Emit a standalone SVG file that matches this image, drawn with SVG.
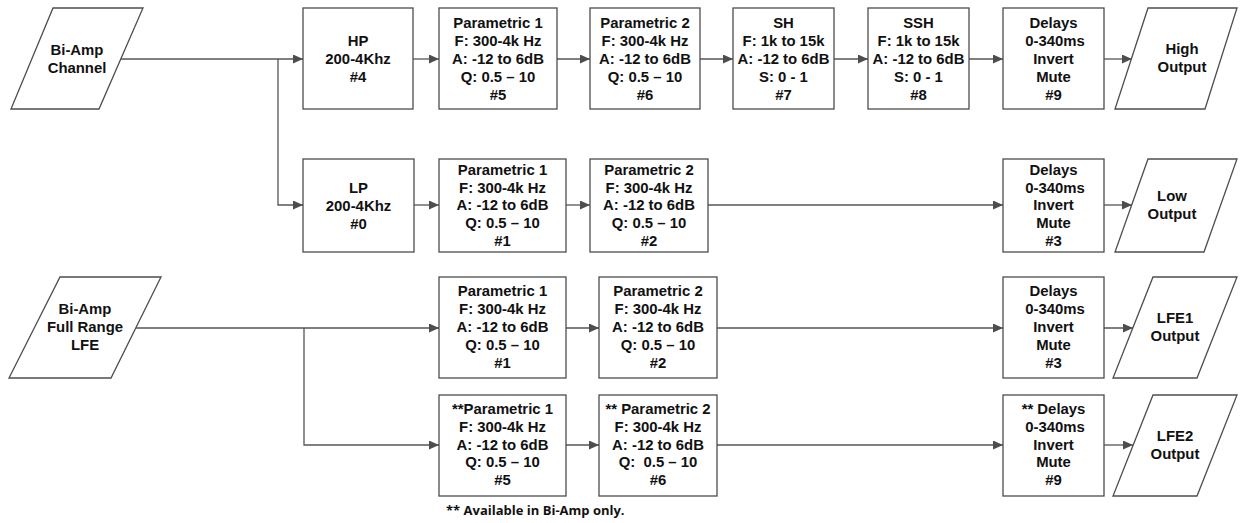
<svg xmlns="http://www.w3.org/2000/svg" width="1243" height="523" viewBox="0 0 1243 523">
<style>
.n{fill:#fff;stroke:#4d4d4d;stroke-width:1.3}
.t{font-family:"Liberation Sans",Arial,sans-serif;font-weight:700;font-size:14.9px;fill:#111;text-anchor:middle}
.c{fill:none;stroke:#555;stroke-width:1.3}
.fn{font-family:"Open Sans","Liberation Sans",sans-serif;font-weight:700;font-size:13px;fill:#111}
</style>
<defs>
<marker id="ah" markerUnits="userSpaceOnUse" markerWidth="11" markerHeight="10" refX="10" refY="4.5" orient="auto">
<path d="M0,0 L10,4.5 L0,9 z" fill="#4d4d4d"/>
</marker>
</defs>
<rect width="1243" height="523" fill="#fff"/>
<g id="connectors">
<path class="c" d="M121,59 H303" marker-end="url(#ah)"/>
<path class="c" d="M278,59 V205 H303" marker-end="url(#ah)"/>
<path class="c" d="M413,59 H439" marker-end="url(#ah)"/>
<path class="c" d="M557,59 H590" marker-end="url(#ah)"/>
<path class="c" d="M700,59 H733" marker-end="url(#ah)"/>
<path class="c" d="M834,59 H868" marker-end="url(#ah)"/>
<path class="c" d="M969,59 H1003" marker-end="url(#ah)"/>
<path class="c" d="M1104,59 H1132" marker-end="url(#ah)"/>
<path class="c" d="M414,205 H439" marker-end="url(#ah)"/>
<path class="c" d="M566,205 H590" marker-end="url(#ah)"/>
<path class="c" d="M708,205 H1003" marker-end="url(#ah)"/>
<path class="c" d="M1104,205 H1132" marker-end="url(#ah)"/>
<path class="c" d="M136,328 H439" marker-end="url(#ah)"/>
<path class="c" d="M304,328 V445 H439" marker-end="url(#ah)"/>
<path class="c" d="M566,328 H599" marker-end="url(#ah)"/>
<path class="c" d="M717,328 H1003" marker-end="url(#ah)"/>
<path class="c" d="M1100,328 H1133" marker-end="url(#ah)"/>
<path class="c" d="M566,445 H599" marker-end="url(#ah)"/>
<path class="c" d="M717,445 H1003" marker-end="url(#ah)"/>
<path class="c" d="M1104,445 H1133" marker-end="url(#ah)"/>
</g>
<g id="in-biamp">
<polygon class="n" points="53,8 143,8 99,109 11,109"/>
<text class="t"><tspan x="77" y="55">Bi-Amp</tspan><tspan x="77" y="73">Channel</tspan></text>
</g>
<g id="in-lfe">
<polygon class="n" points="60,277 161,277 111,378 9,378"/>
<text class="t"><tspan x="85" y="314">Bi-Amp</tspan><tspan x="85" y="332">Full Range</tspan><tspan x="85" y="350">LFE</tspan></text>
</g>
<g id="hp">
<rect class="n" x="303" y="8" width="110" height="101"/>
<text class="t"><tspan x="358" y="46">HP</tspan><tspan x="358" y="64">200-4Khz</tspan><tspan x="358" y="82">#4</tspan></text>
</g>
<g id="r1p1">
<rect class="n" x="439" y="8" width="118" height="101"/>
<text class="t"><tspan x="498" y="28">Parametric 1</tspan><tspan x="498" y="46">F: 300-4k Hz</tspan><tspan x="498" y="64">A: -12 to 6dB</tspan><tspan x="498" y="82">Q: 0.5 – 10</tspan><tspan x="498" y="100">#5</tspan></text>
</g>
<g id="r1p2">
<rect class="n" x="590" y="8" width="110" height="101"/>
<text class="t"><tspan x="645" y="28">Parametric 2</tspan><tspan x="645" y="46">F: 300-4k Hz</tspan><tspan x="645" y="64">A: -12 to 6dB</tspan><tspan x="645" y="82">Q: 0.5 – 10</tspan><tspan x="645" y="100">#6</tspan></text>
</g>
<g id="sh">
<rect class="n" x="733" y="8" width="101" height="101"/>
<text class="t"><tspan x="783.5" y="28">SH</tspan><tspan x="783.5" y="46">F: 1k to 15k</tspan><tspan x="783.5" y="64">A: -12 to 6dB</tspan><tspan x="783.5" y="82">S: 0 - 1</tspan><tspan x="783.5" y="100">#7</tspan></text>
</g>
<g id="ssh">
<rect class="n" x="868" y="8" width="101" height="101"/>
<text class="t"><tspan x="918.5" y="28">SSH</tspan><tspan x="918.5" y="46">F: 1k to 15k</tspan><tspan x="918.5" y="64">A: -12 to 6dB</tspan><tspan x="918.5" y="82">S: 0 - 1</tspan><tspan x="918.5" y="100">#8</tspan></text>
</g>
<g id="r1delay">
<rect class="n" x="1003" y="8" width="101" height="101"/>
<text class="t"><tspan x="1053.5" y="28">Delays</tspan><tspan x="1055" y="46">0-340ms</tspan><tspan x="1053.5" y="64">Invert</tspan><tspan x="1053.5" y="82">Mute</tspan><tspan x="1053.5" y="100">#9</tspan></text>
</g>
<g id="out-high">
<polygon class="n" points="1148,8 1237,8 1205,109 1115,109"/>
<text class="t"><tspan x="1182" y="54">High</tspan><tspan x="1182" y="72">Output</tspan></text>
</g>
<g id="lp">
<rect class="n" x="303" y="159" width="111" height="93"/>
<text class="t"><tspan x="358.5" y="193">LP</tspan><tspan x="358.5" y="211">200-4Khz</tspan><tspan x="358.5" y="229">#0</tspan></text>
</g>
<g id="r2p1">
<rect class="n" x="439" y="159" width="127" height="93"/>
<text class="t"><tspan x="502.5" y="175">Parametric 1</tspan><tspan x="502.5" y="192.7">F: 300-4k Hz</tspan><tspan x="502.5" y="210.4">A: -12 to 6dB</tspan><tspan x="502.5" y="228.1">Q: 0.5 – 10</tspan><tspan x="502.5" y="245.8">#1</tspan></text>
</g>
<g id="r2p2">
<rect class="n" x="590" y="159" width="118" height="93"/>
<text class="t"><tspan x="649" y="175">Parametric 2</tspan><tspan x="649" y="192.7">F: 300-4k Hz</tspan><tspan x="649" y="210.4">A: -12 to 6dB</tspan><tspan x="649" y="228.1">Q: 0.5 – 10</tspan><tspan x="649" y="245.8">#2</tspan></text>
</g>
<g id="r2delay">
<rect class="n" x="1003" y="159" width="101" height="93"/>
<text class="t"><tspan x="1053.5" y="175">Delays</tspan><tspan x="1055" y="192.7">0-340ms</tspan><tspan x="1053.5" y="210.4">Invert</tspan><tspan x="1053.5" y="228.1">Mute</tspan><tspan x="1053.5" y="245.8">#3</tspan></text>
</g>
<g id="out-low">
<polygon class="n" points="1148,159 1237,159 1204,252 1115,252"/>
<text class="t"><tspan x="1172" y="201">Low</tspan><tspan x="1172" y="219">Output</tspan></text>
</g>
<g id="r3p1">
<rect class="n" x="439" y="277" width="127" height="101"/>
<text class="t"><tspan x="502.5" y="296">Parametric 1</tspan><tspan x="502.5" y="314">F: 300-4k Hz</tspan><tspan x="502.5" y="332">A: -12 to 6dB</tspan><tspan x="502.5" y="350">Q: 0.5 – 10</tspan><tspan x="502.5" y="368">#1</tspan></text>
</g>
<g id="r3p2">
<rect class="n" x="599" y="277" width="118" height="101"/>
<text class="t"><tspan x="658" y="296">Parametric 2</tspan><tspan x="658" y="314">F: 300-4k Hz</tspan><tspan x="658" y="332">A: -12 to 6dB</tspan><tspan x="658" y="350">Q: 0.5 – 10</tspan><tspan x="658" y="368">#2</tspan></text>
</g>
<g id="r3delay">
<rect class="n" x="1003" y="277" width="101" height="101"/>
<text class="t"><tspan x="1053.5" y="296">Delays</tspan><tspan x="1055" y="314">0-340ms</tspan><tspan x="1053.5" y="332">Invert</tspan><tspan x="1053.5" y="350">Mute</tspan><tspan x="1053.5" y="368">#3</tspan></text>
</g>
<g id="out-lfe1">
<polygon class="n" points="1153,277 1237,277 1197,378 1113,378"/>
<text class="t"><tspan x="1175" y="323">LFE1</tspan><tspan x="1175" y="341">Output</tspan></text>
</g>
<g id="r4p1">
<rect class="n" x="439" y="395" width="127" height="101"/>
<text class="t"><tspan x="502.5" y="414">**Parametric 1</tspan><tspan x="502.5" y="431.8">F: 300-4k Hz</tspan><tspan x="502.5" y="449.6">A: -12 to 6dB</tspan><tspan x="502.5" y="467.4">Q: 0.5 – 10</tspan><tspan x="502.5" y="485.2">#5</tspan></text>
</g>
<g id="r4p2">
<rect class="n" x="599" y="395" width="118" height="101"/>
<text class="t" xml:space="preserve"><tspan x="658" y="414">** Parametric 2</tspan><tspan x="658" y="431.8">F: 300-4k Hz</tspan><tspan x="658" y="449.6">A: -12 to 6dB</tspan><tspan x="658" y="467.4">Q:  0.5 – 10</tspan><tspan x="658" y="485.2">#6</tspan></text>
</g>
<g id="r4delay">
<rect class="n" x="1003" y="395" width="101" height="101"/>
<text class="t"><tspan x="1053.5" y="414">** Delays</tspan><tspan x="1055" y="431.8">0-340ms</tspan><tspan x="1053.5" y="449.6">Invert</tspan><tspan x="1053.5" y="467.4">Mute</tspan><tspan x="1053.5" y="485.2">#9</tspan></text>
</g>
<g id="out-lfe2">
<polygon class="n" points="1153,395 1237,395 1197,496 1113,496"/>
<text class="t"><tspan x="1175" y="441">LFE2</tspan><tspan x="1175" y="459">Output</tspan></text>
</g>
<g id="footnote">
<text class="fn" x="446" y="515">** Available in Bi-Amp only.</text>
</g>
</svg>
